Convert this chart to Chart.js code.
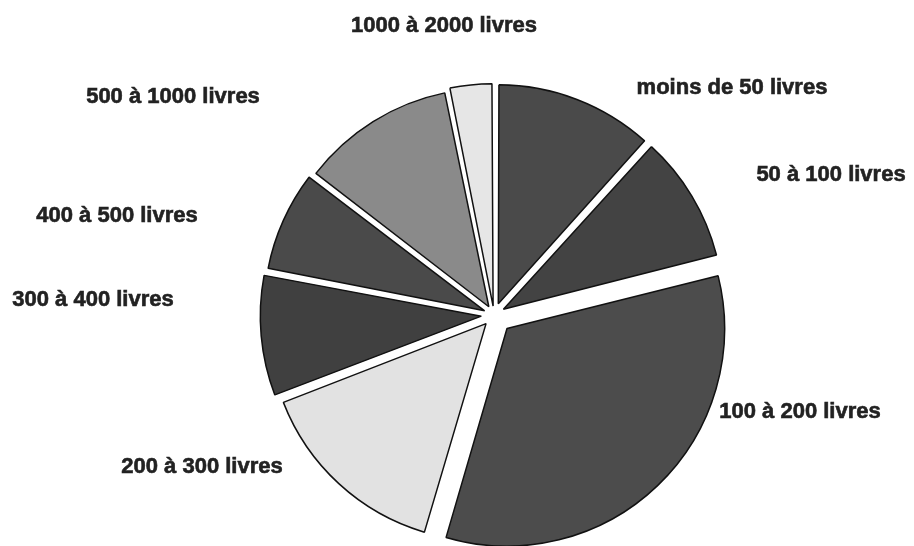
<!DOCTYPE html>
<html>
<head>
<meta charset="utf-8">
<script src="https://cdn.jsdelivr.net/npm/chart.js@4/dist/chart.umd.min.js"></script>
<style>
  html, body { margin: 0; padding: 0; background: #ffffff; }
  #wrap { width: 914px; height: 546px; position: relative; }
</style>
</head>
<body>
<div id="wrap"><canvas id="c" width="914" height="546"></canvas></div>
<script>
// Data (share of each class, in %)
const categories = [
  "moins de 50 livres",
  "50 à 100 livres",
  "100 à 200 livres",
  "200 à 300 livres",
  "300 à 400 livres",
  "400 à 500 livres",
  "500 à 1000 livres",
  "1000 à 2000 livres"
];
const shares = [11.7, 9.4, 33.5, 14.6, 8.9, 7.4, 11.4, 3.2];

// Styles (kept apart from data)
const sliceColors = ["#4a4a4a", "#434343", "#4c4c4c", "#e2e2e2", "#404040", "#4a4a4a", "#8a8a8a", "#e6e6e6"];
// Chart.js scales arc offsets internally, so these are larger than the pixel shift
const sliceOffsets = [48, 44, 75, 47, 51, 41, 39, 36];
const labelPlaces = [
  {x: 732, y: 88},
  {x: 831, y: 175},
  {x: 800, y: 412},
  {x: 202, y: 467},
  {x: 93,  y: 300},
  {x: 117, y: 216},
  {x: 173, y: 97},
  {x: 444, y: 26}
];

const labelPlugin = {
  id: 'sliceLabels',
  afterDraw(chart) {
    const ctx = chart.ctx;
    ctx.save();
    ctx.font = 'bold 22px "Liberation Sans", Arial, sans-serif';
    ctx.fillStyle = '#222222';
    ctx.strokeStyle = '#222222';
    ctx.lineWidth = 0.6;
    ctx.textAlign = 'center';
    ctx.textBaseline = 'middle';
    chart.data.labels.forEach((lab, i) => {
      const p = labelPlaces[i];
      ctx.fillText(lab, p.x, p.y);
      ctx.strokeText(lab, p.x, p.y);
    });
    ctx.restore();
  }
};

new Chart(document.getElementById('c'), {
  type: 'pie',
  data: {
    labels: categories,
    datasets: [{
      data: shares,
      backgroundColor: sliceColors,
      borderColor: '#111111',
      borderWidth: 1.5,
      offset: sliceOffsets,
      hoverOffset: 0,
      clip: false
    }]
  },
  options: {
    responsive: false,
    animation: false,
    radius: 215,
    layout: { padding: { left: 74, right: 0, top: 84, bottom: 0 } },
    plugins: {
      legend: { display: false },
      tooltip: { enabled: false },
      title: { display: false }
    },
    events: []
  },
  plugins: [labelPlugin]
});
</script>
</body>
</html>
